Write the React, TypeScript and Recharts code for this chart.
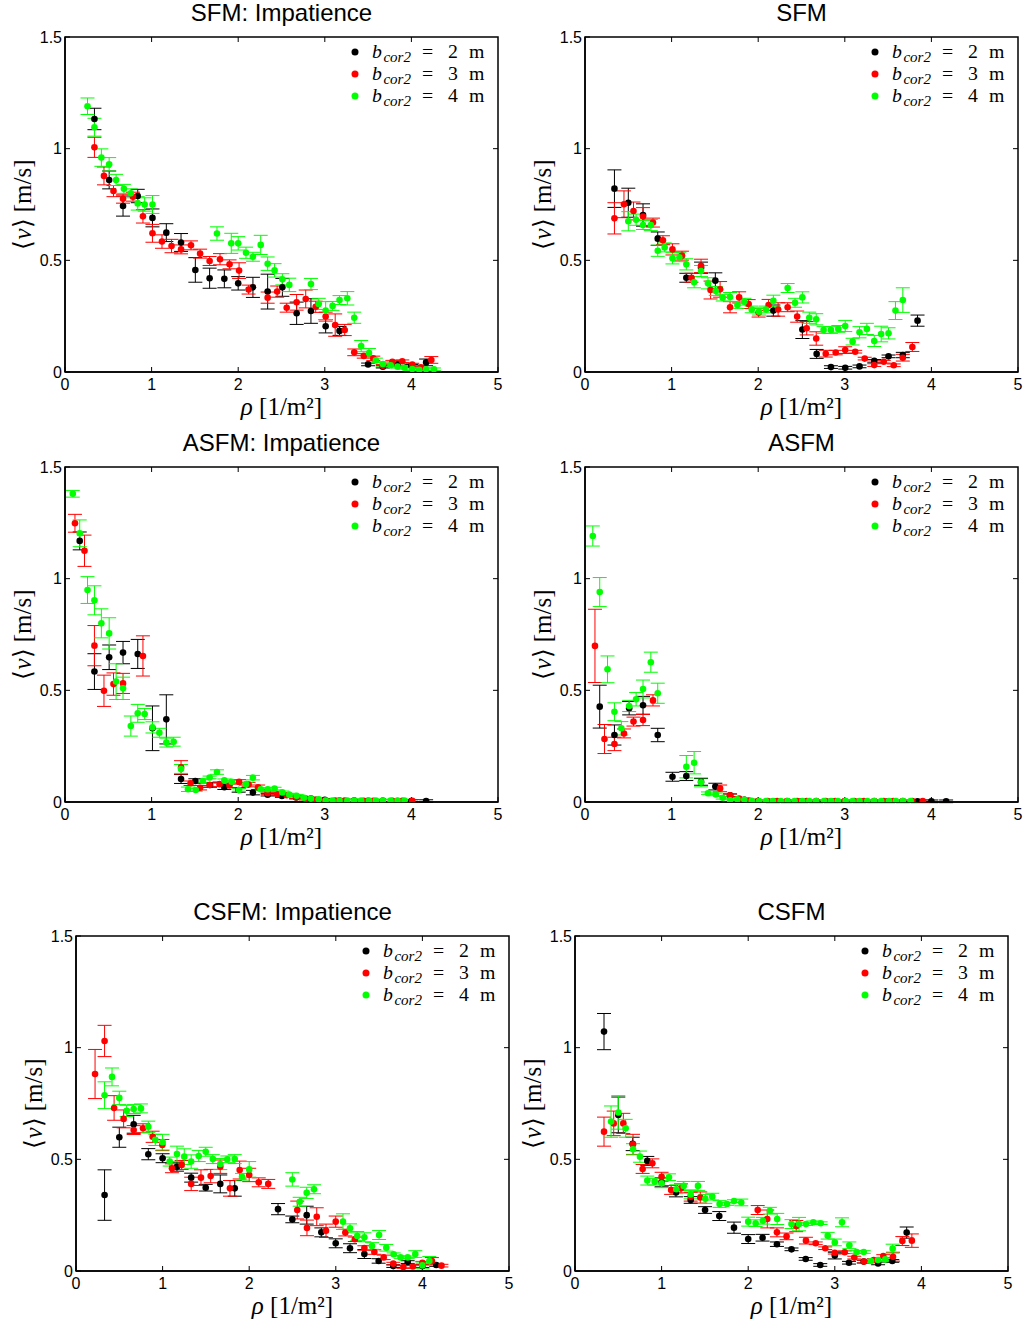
import { ScatterChart, Scatter, XAxis, YAxis, ErrorBar, ReferenceArea, ReferenceLine } from "recharts";

// [density, mean speed, error]
type P = [number, number, number?];

const xTicks = [0, 1, 2, 3, 4, 5];
const yTicks = [0, 0.5, 1, 1.5];
const legendLabels = ["2", "3", "4"];
const colors = ["#000000", "#ff0000", "#00ff00"];

// SFM: Impatience
const sfmImp2: P[] = [
  [0.34, 1.133, 0.048], [0.51, 0.86, 0.04], [0.67, 0.743, 0.045], [0.84, 0.788, 0.03],
  [1.01, 0.69, 0.04], [1.17, 0.624, 0.04], [1.34, 0.58, 0.04], [1.505, 0.457, 0.055],
  [1.67, 0.42, 0.045], [1.84, 0.417, 0.04], [2.0, 0.397, 0.03], [2.17, 0.379, 0.045],
  [2.34, 0.36, 0.078], [2.51, 0.379, 0.04], [2.675, 0.263, 0.05], [2.84, 0.273, 0.055],
  [3.01, 0.205, 0.03], [3.17, 0.184, 0.02], [3.5, 0.034], [3.67, 0.024], [3.84, 0.034],
  [4.0, 0.028], [4.17, 0.043, 0.015],
];
const sfmImp3: P[] = [
  [0.34, 1.006, 0.045], [0.45, 0.878, 0.04], [0.56, 0.81, 0.025], [0.67, 0.776, 0.02],
  [0.785, 0.785, 0.02], [0.9, 0.697, 0.03], [1.01, 0.621, 0.04], [1.12, 0.584, 0.03],
  [1.23, 0.564, 0.03], [1.34, 0.549, 0.02], [1.455, 0.567, 0.02], [1.56, 0.53, 0.02],
  [1.67, 0.497, 0.02], [1.79, 0.505, 0.025], [1.9, 0.482, 0.02], [2.01, 0.454, 0.035],
  [2.12, 0.369, 0.02], [2.34, 0.333, 0.025], [2.45, 0.36, 0.025], [2.56, 0.288, 0.02],
  [2.675, 0.312, 0.035], [2.78, 0.327, 0.04], [2.895, 0.292, 0.025], [3.01, 0.248, 0.02],
  [3.12, 0.21, 0.05], [3.23, 0.188, 0.025], [3.34, 0.088, 0.015], [3.45, 0.072, 0.01],
  [3.56, 0.061, 0.01], [3.67, 0.028], [3.78, 0.046], [3.895, 0.048], [4.01, 0.033],
  [4.11, 0.021], [4.23, 0.054, 0.015],
];
const sfmImp4: P[] = [
  [0.26, 1.19, 0.037], [0.34, 1.096, 0.04], [0.42, 0.96, 0.039], [0.51, 0.93, 0.03],
  [0.59, 0.86, 0.025], [0.68, 0.82, 0.02], [0.76, 0.8, 0.02], [0.84, 0.755, 0.03],
  [0.92, 0.75, 0.03], [1.01, 0.75, 0.04], [1.755, 0.62, 0.03], [1.92, 0.576, 0.045],
  [2.0, 0.576, 0.03], [2.09, 0.534, 0.025], [2.17, 0.516, 0.02], [2.26, 0.569, 0.043],
  [2.34, 0.485, 0.03], [2.42, 0.455, 0.03], [2.51, 0.415, 0.025], [2.59, 0.39, 0.03],
  [2.84, 0.394, 0.025], [2.93, 0.305, 0.025], [3.01, 0.275, 0.04], [3.09, 0.296, 0.02],
  [3.17, 0.322, 0.02], [3.26, 0.33, 0.03], [3.34, 0.243, 0.025], [3.42, 0.116, 0.025],
  [3.51, 0.085, 0.02], [3.59, 0.052, 0.01], [3.67, 0.036, 0.01], [3.76, 0.03], [3.84, 0.024],
  [3.92, 0.019], [4.01, 0.013], [4.09, 0.01], [4.17, 0.012], [4.26, 0.012],
];

// SFM
const sfm2: P[] = [
  [0.34, 0.821, 0.084], [0.5, 0.758, 0.065], [0.67, 0.703, 0.05], [0.84, 0.597, 0.03],
  [1.17, 0.422, 0.02], [1.34, 0.467, 0.025], [1.505, 0.409, 0.035], [2.175, 0.275, 0.025],
  [2.51, 0.19, 0.04], [2.675, 0.081, 0.02], [2.84, 0.022], [3.005, 0.019], [3.17, 0.025],
  [3.34, 0.05], [3.505, 0.07], [3.67, 0.076, 0.012], [3.84, 0.23, 0.025],
];
const sfm3: P[] = [
  [0.34, 0.688, 0.07], [0.45, 0.751, 0.06], [0.56, 0.721, 0.04], [0.67, 0.696, 0.04],
  [0.785, 0.669, 0.02], [0.9, 0.59, 0.02], [1.01, 0.549, 0.025], [1.12, 0.521, 0.02],
  [1.23, 0.422, 0.02], [1.34, 0.475, 0.03], [1.45, 0.367, 0.04], [1.56, 0.37, 0.035],
  [1.675, 0.29, 0.025], [1.78, 0.334, 0.025], [1.89, 0.304, 0.02], [2.005, 0.266, 0.02],
  [2.12, 0.3, 0.025], [2.23, 0.28, 0.03], [2.34, 0.29, 0.02], [2.45, 0.248, 0.025],
  [2.56, 0.196, 0.03], [2.67, 0.15, 0.03], [2.78, 0.082, 0.015], [2.895, 0.087, 0.01],
  [3.005, 0.098, 0.015], [3.12, 0.091], [3.23, 0.06], [3.34, 0.031], [3.45, 0.046],
  [3.565, 0.03], [3.67, 0.064, 0.015], [3.78, 0.112, 0.02],
];
const sfm4: P[] = [
  [0.5, 0.675, 0.043], [0.59, 0.682, 0.025], [0.67, 0.658, 0.02], [0.76, 0.658, 0.025],
  [0.84, 0.543, 0.025], [0.92, 0.558, 0.02], [1.01, 0.509, 0.025], [1.09, 0.514, 0.02],
  [1.17, 0.482, 0.025], [1.26, 0.402, 0.025], [1.34, 0.452, 0.025], [1.42, 0.397, 0.025],
  [1.51, 0.363, 0.02], [1.59, 0.333, 0.015], [1.675, 0.336, 0.02], [1.76, 0.3, 0.015],
  [1.84, 0.315, 0.015], [1.925, 0.28, 0.015], [2.01, 0.27, 0.015], [2.09, 0.28, 0.015],
  [2.175, 0.319, 0.025], [2.34, 0.376, 0.02], [2.425, 0.31, 0.02], [2.51, 0.334, 0.025],
  [2.59, 0.243, 0.025], [2.67, 0.236, 0.025], [2.755, 0.188, 0.015], [2.84, 0.188, 0.015],
  [2.925, 0.193, 0.015], [3.005, 0.206, 0.025], [3.09, 0.136, 0.015], [3.17, 0.178, 0.025],
  [3.255, 0.193, 0.025], [3.34, 0.139, 0.025], [3.42, 0.17, 0.035], [3.505, 0.173, 0.025],
  [3.585, 0.275, 0.04], [3.67, 0.322, 0.055],
];

// ASFM: Impatience
const asfmImp2: P[] = [
  [0.17, 1.169, 0.04], [0.34, 0.584, 0.08], [0.51, 0.648, 0.055], [0.67, 0.669, 0.05],
  [0.84, 0.663, 0.065], [1.01, 0.33, 0.1], [1.17, 0.37, 0.11], [1.34, 0.103, 0.02],
  [1.505, 0.094, 0.01], [1.675, 0.076, 0.01], [1.84, 0.066, 0.01], [2.005, 0.054, 0.01],
  [2.17, 0.042, 0.01], [2.34, 0.033], [2.505, 0.027], [2.67, 0.02], [2.84, 0.015],
  [3.0, 0.01], [3.17, 0.007], [3.34, 0.006], [3.5, 0.005], [3.67, 0.005], [3.84, 0.004],
  [4.0, 0.004], [4.17, 0.004],
];
const asfmImp3: P[] = [
  [0.115, 1.248, 0.04], [0.225, 1.125, 0.07], [0.34, 0.7, 0.09], [0.45, 0.498, 0.07],
  [0.56, 0.528, 0.05], [0.67, 0.531, 0.045], [0.9, 0.654, 0.09], [1.34, 0.155, 0.03],
  [1.45, 0.084, 0.01], [1.56, 0.064, 0.01], [1.67, 0.076, 0.01], [1.785, 0.08, 0.01],
  [1.9, 0.074, 0.01], [2.01, 0.09, 0.01], [2.12, 0.078, 0.01], [2.23, 0.066, 0.01],
  [2.34, 0.039], [2.45, 0.035], [2.56, 0.03], [2.67, 0.021], [2.78, 0.015], [2.895, 0.01],
  [3.005, 0.007], [3.12, 0.006], [3.23, 0.006], [3.34, 0.005], [3.45, 0.005], [3.56, 0.005],
  [3.67, 0.005], [3.78, 0.005], [3.895, 0.005], [4.01, 0.005],
];
const asfmImp4: P[] = [
  [0.09, 1.38, 0.015], [0.17, 1.203, 0.06], [0.26, 0.949, 0.06], [0.34, 0.903, 0.065],
  [0.42, 0.8, 0.065], [0.51, 0.755, 0.07], [0.59, 0.539, 0.08], [0.67, 0.509, 0.05],
  [0.76, 0.34, 0.045], [0.84, 0.397, 0.04], [0.92, 0.394, 0.025], [1.01, 0.334, 0.025],
  [1.09, 0.31, 0.02], [1.17, 0.266, 0.02], [1.255, 0.27, 0.02], [1.34, 0.148, 0.02],
  [1.42, 0.057, 0.01], [1.51, 0.054], [1.59, 0.094], [1.67, 0.11], [1.755, 0.134, 0.01],
  [1.84, 0.097], [1.925, 0.091], [2.01, 0.054], [2.09, 0.08], [2.17, 0.109, 0.01],
  [2.26, 0.057], [2.34, 0.057], [2.42, 0.06], [2.51, 0.043], [2.59, 0.033], [2.675, 0.028],
  [2.76, 0.019], [2.84, 0.015], [2.93, 0.012], [3.01, 0.006], [3.09, 0.006], [3.17, 0.006],
  [3.26, 0.006], [3.34, 0.006], [3.42, 0.006], [3.51, 0.006], [3.59, 0.006], [3.67, 0.006],
  [3.76, 0.006], [3.84, 0.006], [3.92, 0.006],
];

// ASFM
const asfm2: P[] = [
  [0.17, 0.427, 0.096], [0.34, 0.3, 0.045], [0.51, 0.42, 0.03], [0.67, 0.433, 0.04],
  [0.84, 0.3, 0.03], [1.01, 0.113, 0.02], [1.17, 0.116, 0.02], [1.34, 0.09, 0.015],
  [1.505, 0.069, 0.015], [1.675, 0.03], [1.84, 0.01], [2.0, 0.004], [2.17, 0.003],
  [2.34, 0.003], [2.5, 0.003], [2.67, 0.003], [2.84, 0.003], [3.0, 0.003], [3.17, 0.003],
  [3.34, 0.003], [3.5, 0.003], [3.67, 0.003], [3.84, 0.003], [4.0, 0.003], [4.17, 0.003],
];
const asfm3: P[] = [
  [0.115, 0.699, 0.164], [0.225, 0.282, 0.065], [0.34, 0.26, 0.03], [0.45, 0.307, 0.02],
  [0.56, 0.36, 0.02], [0.67, 0.367, 0.025], [0.785, 0.455, 0.025], [1.56, 0.061, 0.015],
  [1.675, 0.03], [1.78, 0.015], [1.89, 0.007], [2.0, 0.004], [2.11, 0.004], [2.22, 0.004],
  [2.33, 0.004], [2.45, 0.004], [2.56, 0.004], [2.67, 0.004], [2.78, 0.004], [2.89, 0.004],
  [3.0, 0.004], [3.11, 0.004], [3.22, 0.004], [3.34, 0.004], [3.45, 0.004], [3.56, 0.004],
  [3.67, 0.004], [3.78, 0.004], [3.9, 0.004],
];
const asfm4: P[] = [
  [0.09, 1.191, 0.045], [0.17, 0.94, 0.065], [0.26, 0.594, 0.06], [0.34, 0.404, 0.04],
  [0.42, 0.33, 0.03], [0.51, 0.43, 0.025], [0.59, 0.46, 0.03], [0.67, 0.506, 0.04],
  [0.76, 0.626, 0.045], [0.84, 0.487, 0.045], [1.17, 0.158, 0.05], [1.26, 0.176, 0.05],
  [1.34, 0.088, 0.02], [1.42, 0.039], [1.51, 0.034], [1.59, 0.019], [1.675, 0.008],
  [1.76, 0.012], [1.84, 0.01], [1.925, 0.005], [2.01, 0.004], [2.09, 0.004], [2.17, 0.004],
  [2.26, 0.004], [2.34, 0.004], [2.42, 0.004], [2.51, 0.004], [2.59, 0.004], [2.67, 0.004],
  [2.76, 0.004], [2.84, 0.004], [2.92, 0.004], [3.01, 0.004], [3.09, 0.004], [3.17, 0.004],
  [3.26, 0.004], [3.34, 0.004], [3.42, 0.004], [3.51, 0.004], [3.59, 0.004], [3.67, 0.004],
  [3.76, 0.004],
];

// CSFM: Impatience
const csfmImp2: P[] = [
  [0.33, 0.34, 0.113], [0.5, 0.599, 0.045], [0.666, 0.657, 0.04], [0.835, 0.523, 0.025],
  [1.0, 0.505, 0.02], [1.166, 0.467, 0.02], [1.33, 0.418, 0.02], [1.498, 0.373, 0.015],
  [1.666, 0.39, 0.04], [1.833, 0.37, 0.035], [2.333, 0.277, 0.025], [2.498, 0.231, 0.015],
  [2.664, 0.25, 0.04], [2.833, 0.173, 0.02], [2.999, 0.124, 0.02], [3.164, 0.102, 0.02],
  [3.33, 0.076, 0.02], [3.495, 0.045, 0.01], [3.664, 0.022], [3.83, 0.04], [4.0, 0.022],
  [4.16, 0.027],
];
const csfmImp3: P[] = [
  [0.22, 0.882, 0.11], [0.33, 1.03, 0.07], [0.44, 0.73, 0.055], [0.55, 0.681, 0.04],
  [0.666, 0.631, 0.02], [0.774, 0.639, 0.02], [0.885, 0.601, 0.025], [0.997, 0.564, 0.025],
  [1.108, 0.46, 0.02], [1.22, 0.475, 0.02], [1.33, 0.39, 0.03], [1.443, 0.418, 0.035],
  [1.555, 0.425, 0.03], [1.666, 0.467, 0.03], [1.778, 0.37, 0.035], [1.89, 0.452, 0.04],
  [2.0, 0.43, 0.03], [2.11, 0.397, 0.02], [2.22, 0.39, 0.02], [2.555, 0.273, 0.04],
  [2.667, 0.193, 0.035], [2.78, 0.243, 0.04], [2.887, 0.18, 0.03], [2.999, 0.221, 0.025],
  [3.11, 0.172, 0.015], [3.22, 0.142, 0.01], [3.33, 0.103, 0.01], [3.445, 0.085, 0.01],
  [3.553, 0.061, 0.01], [3.664, 0.033], [3.78, 0.018], [3.89, 0.02], [4.0, 0.037],
  [4.11, 0.045, 0.015], [4.22, 0.024],
];
const csfmImp4: P[] = [
  [0.33, 0.787, 0.06], [0.416, 0.869, 0.04], [0.5, 0.775, 0.03], [0.585, 0.717, 0.025],
  [0.666, 0.725, 0.02], [0.75, 0.728, 0.02], [0.835, 0.646, 0.025], [0.916, 0.587, 0.025],
  [1.0, 0.577, 0.035], [1.082, 0.49, 0.02], [1.166, 0.524, 0.035], [1.25, 0.512, 0.035],
  [1.33, 0.49, 0.03], [1.417, 0.515, 0.025], [1.498, 0.534, 0.02], [1.58, 0.501, 0.02],
  [1.666, 0.479, 0.025], [1.747, 0.5, 0.015], [1.833, 0.501, 0.02], [1.917, 0.422, 0.015],
  [2.0, 0.455, 0.035], [2.498, 0.41, 0.03], [2.583, 0.31, 0.02], [2.664, 0.35, 0.025],
  [2.748, 0.366, 0.02], [3.083, 0.221, 0.035], [3.164, 0.191, 0.02], [3.248, 0.157, 0.02],
  [3.33, 0.151, 0.02], [3.418, 0.112, 0.015], [3.5, 0.161, 0.02], [3.583, 0.104, 0.015],
  [3.668, 0.075], [3.748, 0.061], [3.83, 0.061], [3.918, 0.076, 0.015], [4.0, 0.025, 0.015],
  [4.08, 0.045, 0.02],
];

// CSFM
const csfm2: P[] = [
  [0.335, 1.072, 0.081], [0.5, 0.699, 0.08], [0.666, 0.569, 0.03], [0.835, 0.493, 0.02],
  [1.0, 0.397, 0.02], [1.166, 0.352, 0.02], [1.336, 0.318, 0.015], [1.502, 0.273, 0.015],
  [1.666, 0.246, 0.02], [1.836, 0.194, 0.025], [2.0, 0.143, 0.02], [2.166, 0.149, 0.015],
  [2.332, 0.12, 0.01], [2.5, 0.097], [2.664, 0.054], [2.832, 0.027], [3.0, 0.069, 0.015],
  [3.164, 0.037], [3.334, 0.042], [3.5, 0.034], [3.664, 0.045], [3.83, 0.172, 0.025],
];
const csfm3: P[] = [
  [0.335, 0.624, 0.065], [0.447, 0.661, 0.055], [0.558, 0.661, 0.045], [0.67, 0.567, 0.045],
  [0.781, 0.457, 0.02], [0.893, 0.482, 0.02], [1.0, 0.422, 0.02], [1.11, 0.363, 0.02],
  [1.224, 0.37, 0.02], [1.336, 0.333, 0.02], [1.447, 0.329, 0.025], [2.11, 0.273, 0.02],
  [2.22, 0.233, 0.04], [2.332, 0.173, 0.02], [2.443, 0.155, 0.015], [2.555, 0.201, 0.025],
  [2.667, 0.136, 0.015], [2.78, 0.124], [2.89, 0.102], [3.0, 0.082], [3.114, 0.084],
  [3.225, 0.06], [3.337, 0.042], [3.45, 0.049], [3.56, 0.067], [3.672, 0.064, 0.02],
  [3.78, 0.134, 0.02], [3.89, 0.136, 0.03],
];
const csfm4: P[] = [
  [0.416, 0.669, 0.07], [0.5, 0.71, 0.075], [0.585, 0.639, 0.04], [0.67, 0.545, 0.025],
  [0.75, 0.512, 0.025], [0.835, 0.405, 0.02], [0.92, 0.4, 0.015], [1.0, 0.393, 0.02],
  [1.085, 0.42, 0.015], [1.17, 0.366, 0.02], [1.255, 0.381, 0.02], [1.336, 0.343, 0.02],
  [1.42, 0.381, 0.02], [1.505, 0.323, 0.02], [1.585, 0.333, 0.015], [1.67, 0.3, 0.015],
  [1.755, 0.3], [1.836, 0.313], [1.92, 0.307, 0.015], [2.0, 0.221, 0.02], [2.086, 0.214, 0.015],
  [2.17, 0.225, 0.015], [2.25, 0.27, 0.015], [2.335, 0.233, 0.025], [2.5, 0.21, 0.02],
  [2.587, 0.21, 0.03], [2.667, 0.21], [2.752, 0.218], [2.837, 0.214], [2.918, 0.158, 0.015],
  [3.0, 0.128, 0.015], [3.083, 0.218, 0.02], [3.168, 0.115, 0.015], [3.252, 0.085],
  [3.334, 0.085], [3.418, 0.045], [3.5, 0.049], [3.583, 0.052], [3.668, 0.1, 0.02],
];

const panels = [
  { title: "SFM: Impatience", px: 65, py: 37, series: [sfmImp2, sfmImp3, sfmImp4] },
  { title: "SFM", px: 585, py: 37, series: [sfm2, sfm3, sfm4] },
  { title: "ASFM: Impatience", px: 65, py: 467, series: [asfmImp2, asfmImp3, asfmImp4] },
  { title: "ASFM", px: 585, py: 467, series: [asfm2, asfm3, asfm4] },
  { title: "CSFM: Impatience", px: 76, py: 936, series: [csfmImp2, csfmImp3, csfmImp4] },
  { title: "CSFM", px: 575, py: 936, series: [csfm2, csfm3, csfm4] },
];

const PW = 433;
const PH = 335;
const LEFT = 65;
const TOP = 37;
const RIGHT = 8;
const BOTTOM = 50;
const W = LEFT + PW + RIGHT;
const H = TOP + PH + BOTTOM;
const TICK = 5;
const X_MAX = xTicks[xTicks.length - 1];
const Y_MAX = yTicks[yTicks.length - 1];
// inward tick length on the top and right edges, in data units
const dxTick = (TICK / PW) * X_MAX;
const dyTick = (TICK / PH) * Y_MAX;

const sans = "'Liberation Sans', Arial, Helvetica, sans-serif";
const serif = "'Liberation Serif', 'Times New Roman', serif";

const toRows = (a: P[]) => a.map(([x, y, e]) => ({ x, y, e: e ?? 0.006 }));

function Panel({ title, px, py, series }: (typeof panels)[number]) {
  return (
    <div style={{ position: "absolute", left: px - LEFT, top: py - TOP, width: W, height: H }}>
      <ScatterChart width={W} height={H} margin={{ top: TOP, right: RIGHT, bottom: 0, left: 0 }}>
        <XAxis
          type="number"
          dataKey="x"
          domain={[0, X_MAX]}
          ticks={xTicks}
          interval={0}
          allowDataOverflow
          height={BOTTOM}
          stroke="#000"
          axisLine={{ stroke: "#000", strokeWidth: 1.5 }}
          tickLine={{ stroke: "#000" }}
          tickSize={-TICK}
          tickMargin={12}
          tick={{ fill: "#000", fontSize: 16, fontFamily: sans }}
          label={(p: any) => {
            const vb = p.viewBox;
            return (
              <text
                x={vb.x + vb.width / 2}
                y={vb.y + 43}
                textAnchor="middle"
                fontFamily={serif}
                fontSize={25}
                fill="#000"
              >
                <tspan fontStyle="italic">ρ</tspan>
                <tspan> [1/m²]</tspan>
              </text>
            );
          }}
        />
        <YAxis
          type="number"
          dataKey="y"
          domain={[0, Y_MAX]}
          ticks={yTicks}
          interval={0}
          allowDataOverflow
          width={LEFT}
          stroke="#000"
          axisLine={{ stroke: "#000", strokeWidth: 1.5 }}
          tickLine={{ stroke: "#000" }}
          tickSize={-TICK}
          tickMargin={8}
          tick={{ fill: "#000", fontSize: 16, fontFamily: sans }}
          label={(p: any) => {
            const vb = p.viewBox;
            const cx = vb.x + vb.width - 43;
            const cy = vb.y + vb.height / 2;
            return (
              <text
                x={cx}
                y={cy}
                transform={`rotate(-90 ${cx} ${cy})`}
                textAnchor="middle"
                dominantBaseline="central"
                fontFamily={serif}
                fontSize={25}
                fill="#000"
              >
                <tspan>⟨</tspan>
                <tspan fontStyle="italic">v</tspan>
                <tspan>⟩ [m/s]</tspan>
              </text>
            );
          }}
        />
        <ReferenceArea
          x1={0}
          x2={X_MAX}
          y1={0}
          y2={Y_MAX}
          fill="none"
          fillOpacity={0}
          stroke="#000"
          strokeWidth={1.5}
          ifOverflow="visible"
        />
        {xTicks.slice(1, -1).map((t) => (
          <ReferenceLine
            key={`tx${t}`}
            segment={[
              { x: t, y: Y_MAX },
              { x: t, y: Y_MAX - dyTick },
            ]}
            stroke="#000"
            ifOverflow="visible"
          />
        ))}
        {yTicks.slice(1, -1).map((t) => (
          <ReferenceLine
            key={`ty${t}`}
            segment={[
              { x: X_MAX, y: t },
              { x: X_MAX - dxTick, y: t },
            ]}
            stroke="#000"
            ifOverflow="visible"
          />
        ))}
        {series.map((s, i) => (
          <Scatter
            key={i}
            data={toRows(s)}
            fill={colors[i]}
            isAnimationActive={false}
            shape={(p: any) => <circle cx={p.cx} cy={p.cy} r={3.3} fill={colors[i]} />}
          >
            <ErrorBar dataKey="e" direction="y" width={7} stroke={colors[i]} strokeWidth={1} />
          </Scatter>
        ))}
      </ScatterChart>
      <svg
        width={W}
        height={TOP + 80}
        style={{ position: "absolute", left: 0, top: 0, pointerEvents: "none" }}
      >
        <text
          x={LEFT + PW / 2}
          y={TOP - 16}
          textAnchor="middle"
          fontFamily={sans}
          fontSize={24}
          fill="#000"
        >
          {title}
        </text>
        {legendLabels.map((lab, i) => {
          const cy = TOP + 15 + 22 * i;
          return (
            <g key={lab}>
              <circle cx={LEFT + PW - 143} cy={cy} r={3.5} fill={colors[i]} />
              <text x={LEFT + PW - 126} y={cy + 6} fontFamily={serif} fontSize={19.8} fill="#000">
                <tspan fontStyle="italic">b</tspan>
                <tspan fontStyle="italic" fontSize={15} dy={4} dx={1.5}>cor2</tspan>
                <tspan dy={-4} dx={11}>=</tspan>
                <tspan dx={15}>{lab}</tspan>
                <tspan dx={11}>m</tspan>
              </text>
            </g>
          );
        })}
      </svg>
    </div>
  );
}

export default function App() {
  return (
    <div
      style={{
        position: "absolute",
        left: 0,
        top: 0,
        width: 1026,
        height: 1327,
        background: "#fff",
        overflow: "hidden",
      }}
    >
      {panels.map((p) => (
        <Panel key={p.title} {...p} />
      ))}
    </div>
  );
}
